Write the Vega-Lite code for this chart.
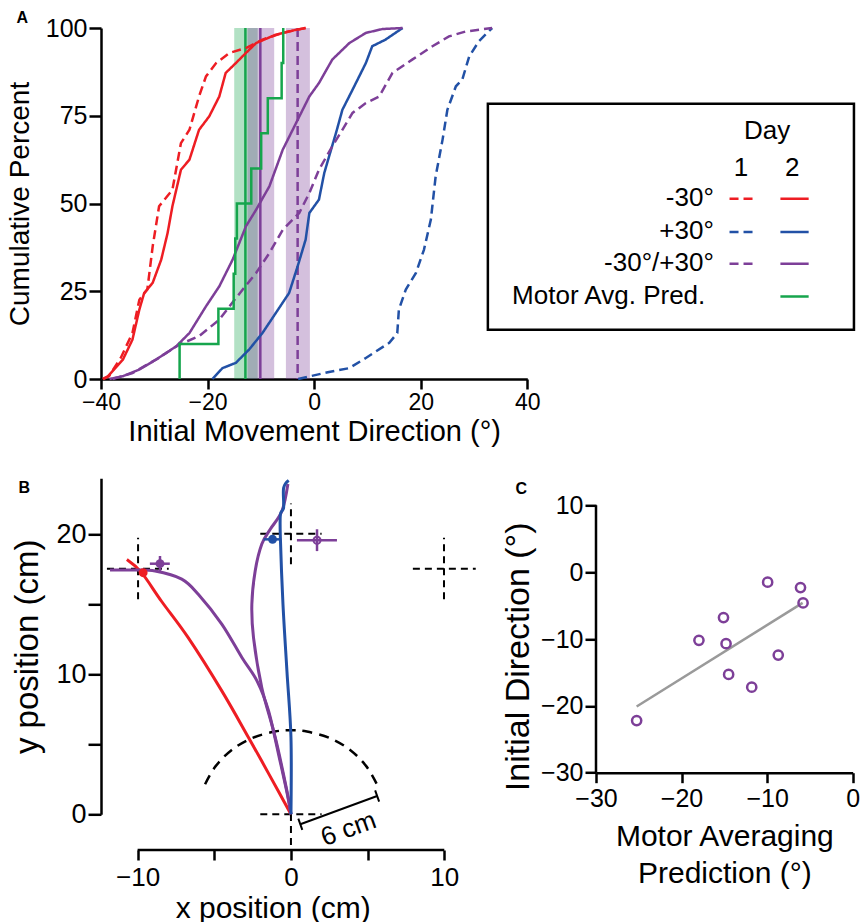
{
"$schema":"https://vega.github.io/schema/vega-lite/v6.json",
"padding":{"left":6,"top":10,"right":0,"bottom":0},
"config":{"font":"Liberation Sans","view":{"stroke":null},
"axis":{"grid":false,"domainColor":"#000","domainWidth":2.5,"tickColor":"#000","tickWidth":2.5,"labelColor":"#000","titleColor":"#000","titleFontWeight":"normal","labelFont":"Liberation Sans","titleFont":"Liberation Sans","labelOverlap":false,"labelFlush":false},
"title":{"font":"Liberation Sans","fontSize":16,"fontWeight":"bold","anchor":"start","frame":"bounds","offset":0,"color":"#000"},
"text":{"font":"Liberation Sans","color":"#000"}},
"datasets":{
"cdf":[
{"s":"r1","cond":"n30","day":"1","x":-39.7,"y":0},{"s":"r1","cond":"n30","day":"1","x":-38.5,"y":0.8},{"s":"r1","cond":"n30","day":"1","x":-36.3,"y":6},{"s":"r1","cond":"n30","day":"1","x":-34.1,"y":13.1},{"s":"r1","cond":"n30","day":"1","x":-32.8,"y":22.6},{"s":"r1","cond":"n30","day":"1","x":-31.3,"y":25.5},{"s":"r1","cond":"n30","day":"1","x":-30.3,"y":37.8},{"s":"r1","cond":"n30","day":"1","x":-29.1,"y":49.2},{"s":"r1","cond":"n30","day":"1","x":-26.6,"y":53.9},{"s":"r1","cond":"n30","day":"1","x":-25,"y":67.2},{"s":"r1","cond":"n30","day":"1","x":-23.4,"y":71},{"s":"r1","cond":"n30","day":"1","x":-21.6,"y":80.5},{"s":"r1","cond":"n30","day":"1","x":-20.3,"y":86.2},{"s":"r1","cond":"n30","day":"1","x":-18.4,"y":90},{"s":"r1","cond":"n30","day":"1","x":-15.9,"y":92.9},{"s":"r1","cond":"n30","day":"1","x":-12.8,"y":94.3},{"s":"r1","cond":"n30","day":"1","x":-9.7,"y":96.7},{"s":"r1","cond":"n30","day":"1","x":-5.9,"y":98.6},{"s":"r1","cond":"n30","day":"1","x":-1.6,"y":100},
{"s":"r2","cond":"n30","day":"2","x":-39.5,"y":0},{"s":"r2","cond":"n30","day":"2","x":-38.7,"y":0.8},{"s":"r2","cond":"n30","day":"2","x":-35.9,"y":5.5},{"s":"r2","cond":"n30","day":"2","x":-34.1,"y":11.2},{"s":"r2","cond":"n30","day":"2","x":-32.8,"y":19.8},{"s":"r2","cond":"n30","day":"2","x":-31.9,"y":24.5},{"s":"r2","cond":"n30","day":"2","x":-30.3,"y":27.4},{"s":"r2","cond":"n30","day":"2","x":-28.7,"y":34},{"s":"r2","cond":"n30","day":"2","x":-27.5,"y":41.6},{"s":"r2","cond":"n30","day":"2","x":-26.6,"y":49.2},{"s":"r2","cond":"n30","day":"2","x":-25,"y":59.6},{"s":"r2","cond":"n30","day":"2","x":-23.4,"y":62.5},{"s":"r2","cond":"n30","day":"2","x":-21.6,"y":71},{"s":"r2","cond":"n30","day":"2","x":-19.7,"y":74.8},{"s":"r2","cond":"n30","day":"2","x":-17.8,"y":80.5},{"s":"r2","cond":"n30","day":"2","x":-16.6,"y":87.2},{"s":"r2","cond":"n30","day":"2","x":-14.7,"y":90},{"s":"r2","cond":"n30","day":"2","x":-12.8,"y":92.9},{"s":"r2","cond":"n30","day":"2","x":-10.9,"y":95.7},{"s":"r2","cond":"n30","day":"2","x":-7.2,"y":98.1},{"s":"r2","cond":"n30","day":"2","x":-3.4,"y":99.5},{"s":"r2","cond":"n30","day":"2","x":-1.6,"y":100},
{"s":"b1","cond":"p30","day":"1","x":-3,"y":0},{"s":"b1","cond":"p30","day":"1","x":2.8,"y":2},{"s":"b1","cond":"p30","day":"1","x":6.6,"y":3.1},{"s":"b1","cond":"p30","day":"1","x":9.7,"y":6},{"s":"b1","cond":"p30","day":"1","x":14.1,"y":10.3},{"s":"b1","cond":"p30","day":"1","x":15.6,"y":13.1},{"s":"b1","cond":"p30","day":"1","x":15.9,"y":19.8},{"s":"b1","cond":"p30","day":"1","x":17.2,"y":25.5},{"s":"b1","cond":"p30","day":"1","x":19.1,"y":30.2},{"s":"b1","cond":"p30","day":"1","x":20.6,"y":36.8},{"s":"b1","cond":"p30","day":"1","x":21.9,"y":45.4},{"s":"b1","cond":"p30","day":"1","x":22.8,"y":57.7},{"s":"b1","cond":"p30","day":"1","x":24.1,"y":68.2},{"s":"b1","cond":"p30","day":"1","x":25,"y":76.7},{"s":"b1","cond":"p30","day":"1","x":26.6,"y":83.4},{"s":"b1","cond":"p30","day":"1","x":27.8,"y":85.3},{"s":"b1","cond":"p30","day":"1","x":29.1,"y":91.9},{"s":"b1","cond":"p30","day":"1","x":30.9,"y":96.2},{"s":"b1","cond":"p30","day":"1","x":33.4,"y":100},
{"s":"b2","cond":"p30","day":"2","x":-19.1,"y":0},{"s":"b2","cond":"p30","day":"2","x":-17.2,"y":3.1},{"s":"b2","cond":"p30","day":"2","x":-14.7,"y":4.6},{"s":"b2","cond":"p30","day":"2","x":-12.2,"y":8.4},{"s":"b2","cond":"p30","day":"2","x":-9.7,"y":13.1},{"s":"b2","cond":"p30","day":"2","x":-7.2,"y":18.8},{"s":"b2","cond":"p30","day":"2","x":-4.7,"y":24.5},{"s":"b2","cond":"p30","day":"2","x":-3.1,"y":32.1},{"s":"b2","cond":"p30","day":"2","x":-1.6,"y":39.7},{"s":"b2","cond":"p30","day":"2","x":-0.9,"y":47.3},{"s":"b2","cond":"p30","day":"2","x":0.9,"y":51.1},{"s":"b2","cond":"p30","day":"2","x":1.9,"y":58.7},{"s":"b2","cond":"p30","day":"2","x":2.8,"y":63.4},{"s":"b2","cond":"p30","day":"2","x":4.1,"y":70.1},{"s":"b2","cond":"p30","day":"2","x":5.3,"y":76.7},{"s":"b2","cond":"p30","day":"2","x":7.2,"y":82.4},{"s":"b2","cond":"p30","day":"2","x":9.7,"y":90},{"s":"b2","cond":"p30","day":"2","x":10.9,"y":94.8},{"s":"b2","cond":"p30","day":"2","x":13.4,"y":96.7},{"s":"b2","cond":"p30","day":"2","x":16.6,"y":100},
{"s":"m1","cond":"mix","day":"1","x":-37.8,"y":0},{"s":"m1","cond":"mix","day":"1","x":-34.1,"y":1.7},{"s":"m1","cond":"mix","day":"1","x":-29.7,"y":5.5},{"s":"m1","cond":"mix","day":"1","x":-25.3,"y":9.8},{"s":"m1","cond":"mix","day":"1","x":-21.6,"y":12.2},{"s":"m1","cond":"mix","day":"1","x":-17.8,"y":16.9},{"s":"m1","cond":"mix","day":"1","x":-15.9,"y":20.7},{"s":"m1","cond":"mix","day":"1","x":-13.4,"y":25.5},{"s":"m1","cond":"mix","day":"1","x":-10.9,"y":30.2},{"s":"m1","cond":"mix","day":"1","x":-8.4,"y":35.9},{"s":"m1","cond":"mix","day":"1","x":-5.9,"y":42.5},{"s":"m1","cond":"mix","day":"1","x":-2.8,"y":47.3},{"s":"m1","cond":"mix","day":"1","x":-0.9,"y":53},{"s":"m1","cond":"mix","day":"1","x":0.9,"y":59.6},{"s":"m1","cond":"mix","day":"1","x":3.4,"y":66.3},{"s":"m1","cond":"mix","day":"1","x":5.3,"y":71},{"s":"m1","cond":"mix","day":"1","x":7.2,"y":75.8},{"s":"m1","cond":"mix","day":"1","x":9.7,"y":78.6},{"s":"m1","cond":"mix","day":"1","x":12.2,"y":80.5},{"s":"m1","cond":"mix","day":"1","x":14.7,"y":87.2},{"s":"m1","cond":"mix","day":"1","x":18.4,"y":91},{"s":"m1","cond":"mix","day":"1","x":22.2,"y":94.8},{"s":"m1","cond":"mix","day":"1","x":25.3,"y":97.6},{"s":"m1","cond":"mix","day":"1","x":28.4,"y":99},{"s":"m1","cond":"mix","day":"1","x":33.4,"y":100},
{"s":"m2","cond":"mix","day":"2","x":-38.4,"y":0},{"s":"m2","cond":"mix","day":"2","x":-35.9,"y":0.8},{"s":"m2","cond":"mix","day":"2","x":-32.8,"y":2.7},{"s":"m2","cond":"mix","day":"2","x":-29.7,"y":5.5},{"s":"m2","cond":"mix","day":"2","x":-25.9,"y":9.3},{"s":"m2","cond":"mix","day":"2","x":-23.4,"y":13.1},{"s":"m2","cond":"mix","day":"2","x":-20.3,"y":20.7},{"s":"m2","cond":"mix","day":"2","x":-17.8,"y":26.4},{"s":"m2","cond":"mix","day":"2","x":-15.3,"y":34},{"s":"m2","cond":"mix","day":"2","x":-12.8,"y":43.5},{"s":"m2","cond":"mix","day":"2","x":-10.9,"y":48.2},{"s":"m2","cond":"mix","day":"2","x":-8.4,"y":54.9},{"s":"m2","cond":"mix","day":"2","x":-5.9,"y":65.3},{"s":"m2","cond":"mix","day":"2","x":-3.4,"y":72.9},{"s":"m2","cond":"mix","day":"2","x":-0.9,"y":80.5},{"s":"m2","cond":"mix","day":"2","x":0.9,"y":84.3},{"s":"m2","cond":"mix","day":"2","x":3.4,"y":91},{"s":"m2","cond":"mix","day":"2","x":6.6,"y":95.7},{"s":"m2","cond":"mix","day":"2","x":9.7,"y":98.6},{"s":"m2","cond":"mix","day":"2","x":12.8,"y":99.7},{"s":"m2","cond":"mix","day":"2","x":16.6,"y":100}
],
"motor":[{"i":0,"x":-25.25,"y":0},{"i":1,"x":-25.25,"y":10},{"i":2,"x":-17.97,"y":20},{"i":3,"x":-15.1,"y":30},{"i":4,"x":-14.8,"y":40},{"i":5,"x":-14.5,"y":50},{"i":6,"x":-11.8,"y":60},{"i":7,"x":-9.94,"y":70},{"i":8,"x":-8.7,"y":80},{"i":9,"x":-6.1,"y":90},{"i":10,"x":-5.8,"y":100}],
"bandsA":[{"cond":"motor","x":-15,"x2":-10.6},{"cond":"mix","x":-12.5,"x2":-7.5},{"cond":"mix","x":-5.3,"x2":-0.8}],
"vlinesA":[{"cond":"motor","day":"2","x":-12.9},{"cond":"mix","day":"2","x":-10.1},{"cond":"mix","day":"1","x":-3.1}],
"legBox":[{"x":32.6,"x2":101.3,"y":14.05,"y2":78.4}],
"legSamples":[{"cond":"n30","day":"1","x":77.95,"x2":82.7,"y":51.37},{"cond":"n30","day":"2","x":87.5,"x2":92.8,"y":51.37},{"cond":"p30","day":"1","x":77.95,"x2":82.7,"y":41.88},{"cond":"p30","day":"2","x":87.5,"x2":92.8,"y":41.88},{"cond":"mix","day":"1","x":77.95,"x2":82.7,"y":32.85},{"cond":"mix","day":"2","x":87.5,"x2":92.8,"y":32.85},{"cond":"motor","day":"2","x":87.5,"x2":92.8,"y":23.53}],
"legCenter":[{"t":"Day","x":85.0,"y":70.54},{"t":"1","x":80.1,"y":60.11},{"t":"2","x":89.7,"y":60.11}],
"legRight":[{"t":"-30°","x":75.0,"y":51.57},{"t":"+30°","x":75.0,"y":42.05},{"t":"-30°/+30°","x":75.0,"y":33.05},{"t":"Motor Avg. Pred.","x":73.4,"y":23.53}],
"arcB":[{"x":5.6,"y":2.15},{"x":4.91,"y":3.44},{"x":3.86,"y":4.6},{"x":2.54,"y":5.44},{"x":1.04,"y":5.91},{"x":0,"y":6},{"x":-1.04,"y":5.91},{"x":-2.54,"y":5.44},{"x":-3.86,"y":4.6},{"x":-4.91,"y":3.44},{"x":-5.6,"y":2.15}],
"crossB":[{"x":-12,"x2":-7.97,"y":17.54,"y2":17.54},{"x":-9.97,"x2":-9.97,"y":15.36,"y2":19.75},{"x":-2,"x2":2,"y":20.04,"y2":20.04},{"x":0,"x2":0,"y":17.86,"y2":22.2},{"x":7.95,"x2":12.05,"y":17.54,"y2":17.54},{"x":9.98,"x2":9.98,"y":15.36,"y2":19.76},{"x":-2,"x2":2,"y":0,"y2":0},{"x":0,"x2":0,"y":-2.2,"y2":2.2}],
"barB":[{"x":0.61,"x2":5.62,"y":-0.71,"y2":1.31},{"x":0.48,"x2":0.74,"y":-0.31,"y2":-1.11},{"x":5.49,"x2":5.75,"y":1.71,"y2":0.91}],
"barText":[{"t":"6 cm","x":3.76,"y":-1.05}],
"traj":[
{"s":"r","cond":"n30","i":0,"x":0,"y":0},{"s":"r","cond":"n30","i":1,"x":-1.4,"y":2.8},{"s":"r","cond":"n30","i":2,"x":-2.76,"y":5.47},{"s":"r","cond":"n30","i":3,"x":-4.5,"y":8.8},{"s":"r","cond":"n30","i":4,"x":-6.69,"y":12.6},{"s":"r","cond":"n30","i":5,"x":-8.43,"y":15.2},{"s":"r","cond":"n30","i":6,"x":-9.74,"y":17.26},{"s":"r","cond":"n30","i":7,"x":-10.7,"y":18.2},
{"s":"pl","cond":"mix","i":0,"x":0,"y":0},{"s":"pl","cond":"mix","i":1,"x":-0.25,"y":1.5},{"s":"pl","cond":"mix","i":2,"x":-0.75,"y":4},{"s":"pl","cond":"mix","i":3,"x":-1.46,"y":7.38},{"s":"pl","cond":"mix","i":4,"x":-2.2,"y":9.5},{"s":"pl","cond":"mix","i":5,"x":-3.2,"y":11.2},{"s":"pl","cond":"mix","i":6,"x":-4.5,"y":13.57},{"s":"pl","cond":"mix","i":7,"x":-6.03,"y":15.7},{"s":"pl","cond":"mix","i":8,"x":-7.12,"y":16.8},{"s":"pl","cond":"mix","i":9,"x":-8.86,"y":17.38},{"s":"pl","cond":"mix","i":10,"x":-10.3,"y":17.45},{"s":"pl","cond":"mix","i":11,"x":-11.8,"y":17.45},
{"s":"pc","cond":"mix","i":0,"x":0,"y":0},{"s":"pc","cond":"mix","i":1,"x":-0.26,"y":1.66},{"s":"pc","cond":"mix","i":2,"x":-1.02,"y":5.47},{"s":"pc","cond":"mix","i":3,"x":-1.9,"y":9.04},{"s":"pc","cond":"mix","i":4,"x":-2.44,"y":12.6},{"s":"pc","cond":"mix","i":5,"x":-2.55,"y":15},{"s":"pc","cond":"mix","i":6,"x":-2.33,"y":17.4},{"s":"pc","cond":"mix","i":7,"x":-1.9,"y":19.3},{"s":"pc","cond":"mix","i":8,"x":-1.35,"y":20.36},{"s":"pc","cond":"mix","i":9,"x":-0.59,"y":21.66},{"s":"pc","cond":"mix","i":10,"x":-0.2,"y":23.6},
{"s":"b","cond":"p30","i":0,"x":0,"y":0},{"s":"b","cond":"p30","i":1,"x":0,"y":5.5},{"s":"b","cond":"p30","i":2,"x":-0.26,"y":10.2},{"s":"b","cond":"p30","i":3,"x":-0.52,"y":15},{"s":"b","cond":"p30","i":4,"x":-0.69,"y":19.76},{"s":"b","cond":"p30","i":5,"x":-0.69,"y":21.4},{"s":"b","cond":"p30","i":6,"x":-0.48,"y":21.9},{"s":"b","cond":"p30","i":7,"x":-0.48,"y":23.3},{"s":"b","cond":"p30","i":8,"x":-0.15,"y":23.85}
],
"errB":[{"cond":"p30","x":-1.78,"x2":-0.69,"y":19.64,"y2":19.64},{"cond":"mix","x":-9.2,"x2":-7.9,"y":17.9,"y2":17.9},{"cond":"mix","x":-8.54,"x2":-8.54,"y":17.38,"y2":18.45},{"cond":"mix","x":0.39,"x2":3.0,"y":19.57,"y2":19.57},{"cond":"mix","x":1.7,"x2":1.7,"y":18.8,"y2":20.36}],
"mkFilled":[{"cond":"n30","x":-9.64,"y":17.26},{"cond":"p30","x":-1.2,"y":19.64},{"cond":"mix","x":-8.54,"y":17.9}],
"mkOpen":[{"cond":"mix","x":1.7,"y":19.57}],
"ptsC":[{"x":-25.25,"y":-22.2},{"x":-17.97,"y":-10.2},{"x":-15.1,"y":-6.8},{"x":-14.8,"y":-10.7},{"x":-14.5,"y":-15.3},{"x":-11.8,"y":-17.2},{"x":-9.94,"y":-1.5},{"x":-8.7,"y":-12.4},{"x":-6.1,"y":-2.3},{"x":-5.8,"y":-4.6}],
"fitC":[{"x":-25.25,"y":-20.1},{"x":-5.85,"y":-4.6}]
},
"spacing":28.3,
"vconcat":[
{"width":426.3,"height":351,
"title":{"text":"A","dx":10.2,"dy":14},
"layer":[
{"data":{"name":"bandsA"},"mark":{"type":"rect","opacity":0.33},"encoding":{"x":{"field":"x","type":"quantitative","scale":{"domain":[-40,40],"nice":false,"zero":false},"axis":{"values":[-40,-20,0,20,40],"title":"Initial Movement Direction (°)","labelFontSize":23,"titleFontSize":29,"tickSize":10,"labelPadding":2,"titlePadding":3}},"x2":{"field":"x2"},"color":{"field":"cond","type":"nominal","scale":{"domain":["n30","p30","mix","motor"],"range":["#ee1d23","#2251a6","#7d3f98","#16a54d"]},"legend":null}}},
{"data":{"name":"vlinesA"},"mark":{"type":"rule","strokeWidth":2.5},"encoding":{"x":{"field":"x","type":"quantitative","scale":{"domain":[-40,40],"nice":false,"zero":false}},"color":{"field":"cond","type":"nominal","scale":{"domain":["n30","p30","mix","motor"],"range":["#ee1d23","#2251a6","#7d3f98","#16a54d"]},"legend":null},"strokeDash":{"field":"day","type":"nominal","scale":{"domain":["1","2"],"range":[[9,5],[1,0]]},"legend":null}}},
{"data":{"name":"cdf"},"mark":{"type":"line","strokeWidth":2.5},"encoding":{"x":{"field":"x","type":"quantitative","scale":{"domain":[-40,40],"nice":false,"zero":false}},"y":{"field":"y","type":"quantitative","scale":{"domain":[0,100],"nice":false,"zero":false},"axis":{"values":[0,25,50,75,100],"title":"Cumulative Percent","labelFontSize":25,"titleFontSize":28,"tickSize":12,"labelPadding":2,"titlePadding":11}},"detail":{"field":"s"},"color":{"field":"cond","type":"nominal","scale":{"domain":["n30","p30","mix","motor"],"range":["#ee1d23","#2251a6","#7d3f98","#16a54d"]},"legend":null},"strokeDash":{"field":"day","type":"nominal","scale":{"domain":["1","2"],"range":[[9,5],[1,0]]},"legend":null}}},
{"data":{"name":"motor"},"mark":{"type":"line","strokeWidth":2.5,"interpolate":"step-after","color":"#16a54d"},"encoding":{"x":{"field":"x","type":"quantitative","scale":{"domain":[-40,40],"nice":false,"zero":false}},"y":{"field":"y","type":"quantitative","scale":{"domain":[0,100],"nice":false,"zero":false}},"order":{"field":"i","type":"quantitative"}}},
{"data":{"name":"legBox"},"mark":{"type":"rect","fill":"white","stroke":"black","strokeWidth":2.5},"encoding":{"x":{"field":"x","type":"quantitative","scale":{"domain":[-40,40],"nice":false,"zero":false}},"x2":{"field":"x2"},"y":{"field":"y","type":"quantitative","scale":{"domain":[0,100],"nice":false,"zero":false}},"y2":{"field":"y2"}}},
{"data":{"name":"legSamples"},"mark":{"type":"rule","strokeWidth":2.5},"encoding":{"x":{"field":"x","type":"quantitative","scale":{"domain":[-40,40],"nice":false,"zero":false}},"x2":{"field":"x2"},"y":{"field":"y","type":"quantitative","scale":{"domain":[0,100],"nice":false,"zero":false}},"color":{"field":"cond","type":"nominal","scale":{"domain":["n30","p30","mix","motor"],"range":["#ee1d23","#2251a6","#7d3f98","#16a54d"]},"legend":null},"strokeDash":{"field":"day","type":"nominal","scale":{"domain":["1","2"],"range":[[10,5],[1,0]]},"legend":null}}},
{"data":{"name":"legCenter"},"mark":{"type":"text","fontSize":26,"align":"center","baseline":"middle"},"encoding":{"x":{"field":"x","type":"quantitative","scale":{"domain":[-40,40],"nice":false,"zero":false}},"y":{"field":"y","type":"quantitative","scale":{"domain":[0,100],"nice":false,"zero":false}},"text":{"field":"t"}}},
{"data":{"name":"legRight"},"mark":{"type":"text","fontSize":26,"align":"right","baseline":"middle"},"encoding":{"x":{"field":"x","type":"quantitative","scale":{"domain":[-40,40],"nice":false,"zero":false}},"y":{"field":"y","type":"quantitative","scale":{"domain":[0,100],"nice":false,"zero":false}},"text":{"field":"t"}}}
]},
{"spacing":24,"hconcat":[
{"width":343.3,"height":336,
"title":{"text":"B","dx":6.5,"dy":26},
"layer":[
{"data":{"name":"arcB"},"mark":{"type":"line","color":"#000","strokeWidth":2.5,"strokeDash":[10,7],"interpolate":"cardinal"},"encoding":{"x":{"field":"x","type":"quantitative","scale":{"domain":[-12.387,10],"nice":false,"zero":false},"axis":{"values":[-10,-5,0,5,10],"labelExpr":"datum.value % 10 === 0 ? datum.label : ''","domain":false,"offset":35.7,"title":"x position (cm)","labelFontSize":26,"titleFontSize":30,"tickSize":10,"labelPadding":4,"titlePadding":3}},"y":{"field":"y","type":"quantitative","scale":{"domain":[0,24],"nice":false,"zero":false},"axis":{"values":[0,5,10,15,20],"labelExpr":"datum.value % 10 === 0 ? datum.label : ''","title":"y position (cm)","labelFontSize":27,"titleFontSize":33,"tickSize":13,"labelPadding":2,"titlePadding":11}}}},
{"data":{"values":[{}]},"mark":{"type":"rule","color":"#000","strokeWidth":2.5},"encoding":{"x":{"datum":-10,"type":"quantitative","scale":{"domain":[-12.387,10],"nice":false,"zero":false}},"x2":{"datum":10},"y":{"datum":-2.55,"type":"quantitative","scale":{"domain":[0,24],"nice":false,"zero":false}}}},
{"data":{"name":"crossB"},"mark":{"type":"rule","color":"#000","strokeWidth":2,"strokeDash":[7,5]},"encoding":{"x":{"field":"x","type":"quantitative","scale":{"domain":[-12.387,10],"nice":false,"zero":false}},"x2":{"field":"x2"},"y":{"field":"y","type":"quantitative","scale":{"domain":[0,24],"nice":false,"zero":false}},"y2":{"field":"y2"}}},
{"data":{"name":"barB"},"mark":{"type":"rule","color":"#000","strokeWidth":2},"encoding":{"x":{"field":"x","type":"quantitative","scale":{"domain":[-12.387,10],"nice":false,"zero":false}},"x2":{"field":"x2"},"y":{"field":"y","type":"quantitative","scale":{"domain":[0,24],"nice":false,"zero":false}},"y2":{"field":"y2"}}},
{"data":{"name":"barText"},"mark":{"type":"text","fontSize":26,"angle":-20,"align":"center","baseline":"middle"},"encoding":{"x":{"field":"x","type":"quantitative","scale":{"domain":[-12.387,10],"nice":false,"zero":false}},"y":{"field":"y","type":"quantitative","scale":{"domain":[0,24],"nice":false,"zero":false}},"text":{"field":"t"}}},
{"data":{"name":"traj"},"mark":{"type":"line","strokeWidth":3,"interpolate":"cardinal"},"encoding":{"x":{"field":"x","type":"quantitative","scale":{"domain":[-12.387,10],"nice":false,"zero":false}},"y":{"field":"y","type":"quantitative","scale":{"domain":[0,24],"nice":false,"zero":false}},"detail":{"field":"s"},"order":{"field":"i","type":"quantitative"},"color":{"field":"cond","type":"nominal","scale":{"domain":["n30","p30","mix","motor"],"range":["#ee1d23","#2251a6","#7d3f98","#16a54d"]},"legend":null}}},
{"data":{"name":"errB"},"mark":{"type":"rule","strokeWidth":2.5},"encoding":{"x":{"field":"x","type":"quantitative","scale":{"domain":[-12.387,10],"nice":false,"zero":false}},"x2":{"field":"x2"},"y":{"field":"y","type":"quantitative","scale":{"domain":[0,24],"nice":false,"zero":false}},"y2":{"field":"y2"},"color":{"field":"cond","type":"nominal","scale":{"domain":["n30","p30","mix","motor"],"range":["#ee1d23","#2251a6","#7d3f98","#16a54d"]},"legend":null}}},
{"data":{"name":"mkFilled"},"mark":{"type":"point","filled":true,"opacity":1,"size":80},"encoding":{"x":{"field":"x","type":"quantitative","scale":{"domain":[-12.387,10],"nice":false,"zero":false}},"y":{"field":"y","type":"quantitative","scale":{"domain":[0,24],"nice":false,"zero":false}},"color":{"field":"cond","type":"nominal","scale":{"domain":["n30","p30","mix","motor"],"range":["#ee1d23","#2251a6","#7d3f98","#16a54d"]},"legend":null}}},
{"data":{"name":"mkOpen"},"mark":{"type":"point","filled":false,"opacity":1,"size":50,"strokeWidth":2},"encoding":{"x":{"field":"x","type":"quantitative","scale":{"domain":[-12.387,10],"nice":false,"zero":false}},"y":{"field":"y","type":"quantitative","scale":{"domain":[0,24],"nice":false,"zero":false}},"color":{"field":"cond","type":"nominal","scale":{"domain":["n30","p30","mix","motor"],"range":["#ee1d23","#2251a6","#7d3f98","#16a54d"]},"legend":null}}}
]},
{"width":256.7,"height":294.4,
"title":{"text":"C","dx":14,"dy":23},
"layer":[
{"data":{"values":[{}]},"mark":{"type":"rule","color":"#000","strokeWidth":2.5},"encoding":{"x":{"datum":-30,"type":"quantitative","scale":{"domain":[-30,0],"nice":false,"zero":false}},"y":{"datum":-30,"type":"quantitative","scale":{"domain":[-30,14.04],"nice":false,"zero":false}},"y2":{"datum":10}}},
{"data":{"name":"fitC"},"mark":{"type":"line","color":"#9a9a9a","strokeWidth":2.5},"encoding":{"x":{"field":"x","type":"quantitative","scale":{"domain":[-30,0],"nice":false,"zero":false},"axis":{"values":[-30,-20,-10,0],"title":["Motor Averaging","Prediction (°)"],"labelFontSize":25,"titleFontSize":30,"titleLineHeight":36.7,"tickSize":10,"labelPadding":4,"titlePadding":10}},"y":{"field":"y","type":"quantitative","scale":{"domain":[-30,14.04],"nice":false,"zero":false},"axis":{"values":[-30,-20,-10,0,10],"domain":false,"title":"Initial Direction (°)","titleY":178,"labelFontSize":25,"titleFontSize":34,"tickSize":11,"labelPadding":2,"titlePadding":5}}}},
{"data":{"name":"ptsC"},"mark":{"type":"point","filled":false,"opacity":1,"size":85,"strokeWidth":2.5,"color":"#7d3f98"},"encoding":{"x":{"field":"x","type":"quantitative","scale":{"domain":[-30,0],"nice":false,"zero":false}},"y":{"field":"y","type":"quantitative","scale":{"domain":[-30,14.04],"nice":false,"zero":false}}}}
]}
]}
]
}
